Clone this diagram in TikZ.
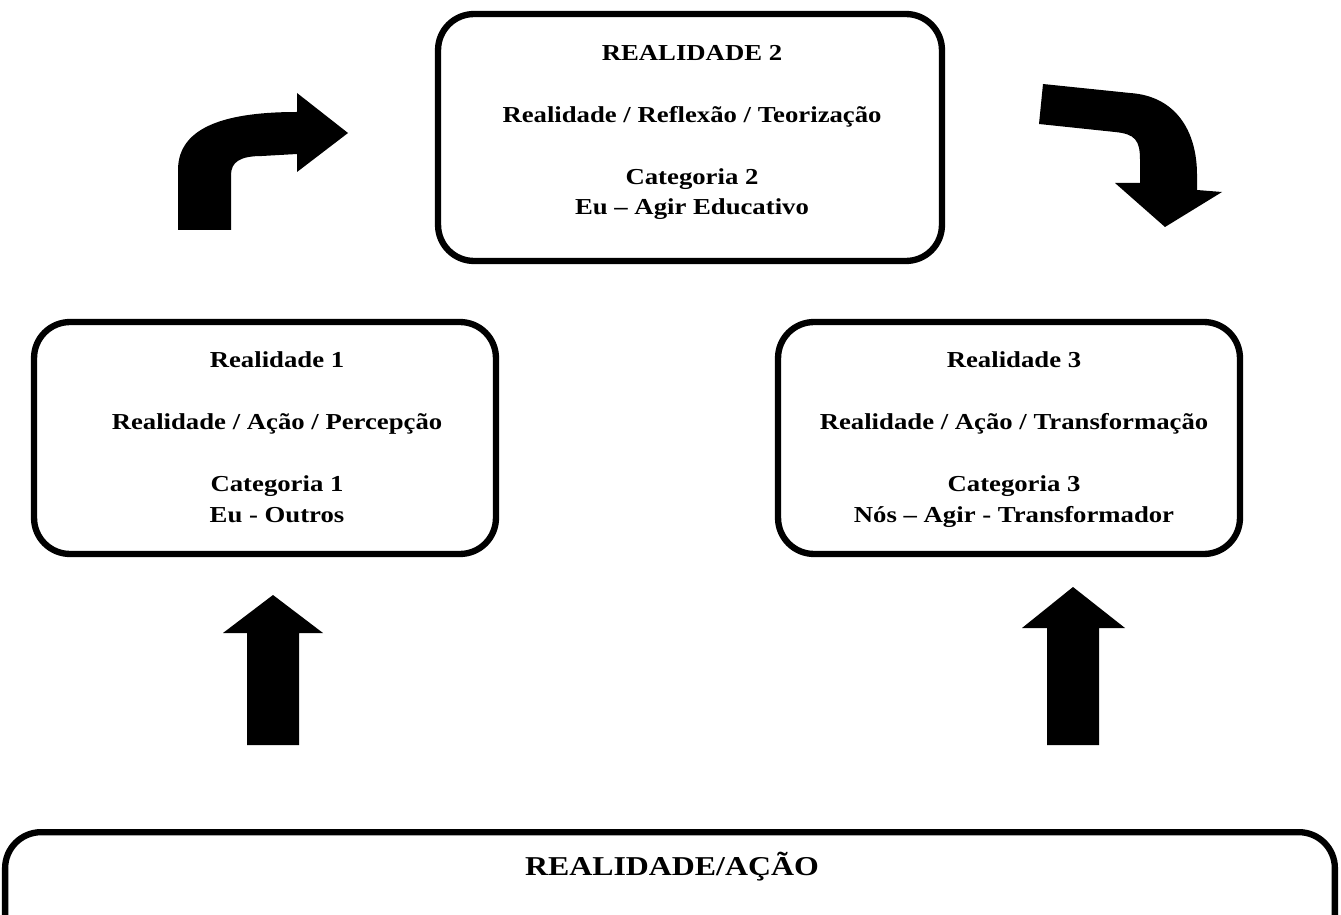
\documentclass[tikz,border=0pt]{standalone}
\usepackage{fontspec}
\setmainfont{Liberation Serif}[FakeStretch=1.17]

\begin{document}
\begin{tikzpicture}[x=0.02cm,y=-0.02cm,
    caixa/.style={draw,line width=3.6pt,rounded corners=0.72cm,inner sep=0pt},
    texto/.style={align=center,font=\fontsize{13}{17.6}\selectfont\bfseries,inner sep=0pt},
    seta/.style={fill=black,draw=none}]
\clip (0,0) rectangle (1341,915);
% caixas
\node[caixa,minimum width=10.08cm,minimum height=4.94cm] (real2) at (690,137.5) {};
\node[caixa,minimum width=9.24cm,minimum height=4.64cm] (real1) at (265,438) {};
\node[caixa,minimum width=9.24cm,minimum height=4.64cm] (real3) at (1009,438) {};
\node[caixa,minimum width=26.6cm,minimum height=2.4cm,anchor=north] (base) at (670,829) {};
% textos (base = ultima linha)
\node[texto,anchor=base] (real2txt) at (692,215) {REALIDADE 2\\[17.6pt]Realidade / Reflexão / Teorização\\[17.6pt]Categoria 2\\Eu – Agir Educativo};
\node[texto,anchor=base] (real1txt) at (277,522) {Realidade 1\\[17.6pt]Realidade / Ação / Percepção\\[17.6pt]Categoria 1\\Eu - Outros};
\node[texto,anchor=base] (real3txt) at (1014,522) {Realidade 3\\[17.6pt]Realidade / Ação / Transformação\\[17.6pt]Categoria 3\\Nós – Agir - Transformador};
\node[texto,anchor=base,font=\fontsize{15.5}{18}\selectfont\bfseries] (basetxt) at (672,875) {REALIDADE/AÇÃO};
% setas curvas
\fill[seta] (178,230) -- (178,170) .. controls (178,125) and (230,112) .. (297,112) -- (297,93) -- (348,133)
    -- (297,172) -- (297,154) -- (262,156) .. controls (240,156) and (231,162) .. (231,175) -- (231,230) -- cycle;
\fill[seta] (1043,84) -- (1130,93) .. controls (1175,96) and (1197,130) .. (1197,175) -- (1197,190) -- (1222,192)
    -- (1165,227) -- (1115,183) -- (1140,183) -- (1140,160) .. controls (1140,140) and (1135,134) .. (1115,132)
    -- (1039,124) -- cycle;
% setas para cima
\fill[seta] (247,745) -- (247,633) -- (223,633) -- (273,595) -- (323,633) -- (299,633) -- (299,745) -- cycle;
\fill[seta] (1047,745) -- (1047,628) -- (1022,628) -- (1073,587) -- (1125,628) -- (1099,628) -- (1099,745) -- cycle;
\end{tikzpicture}
\end{document}
